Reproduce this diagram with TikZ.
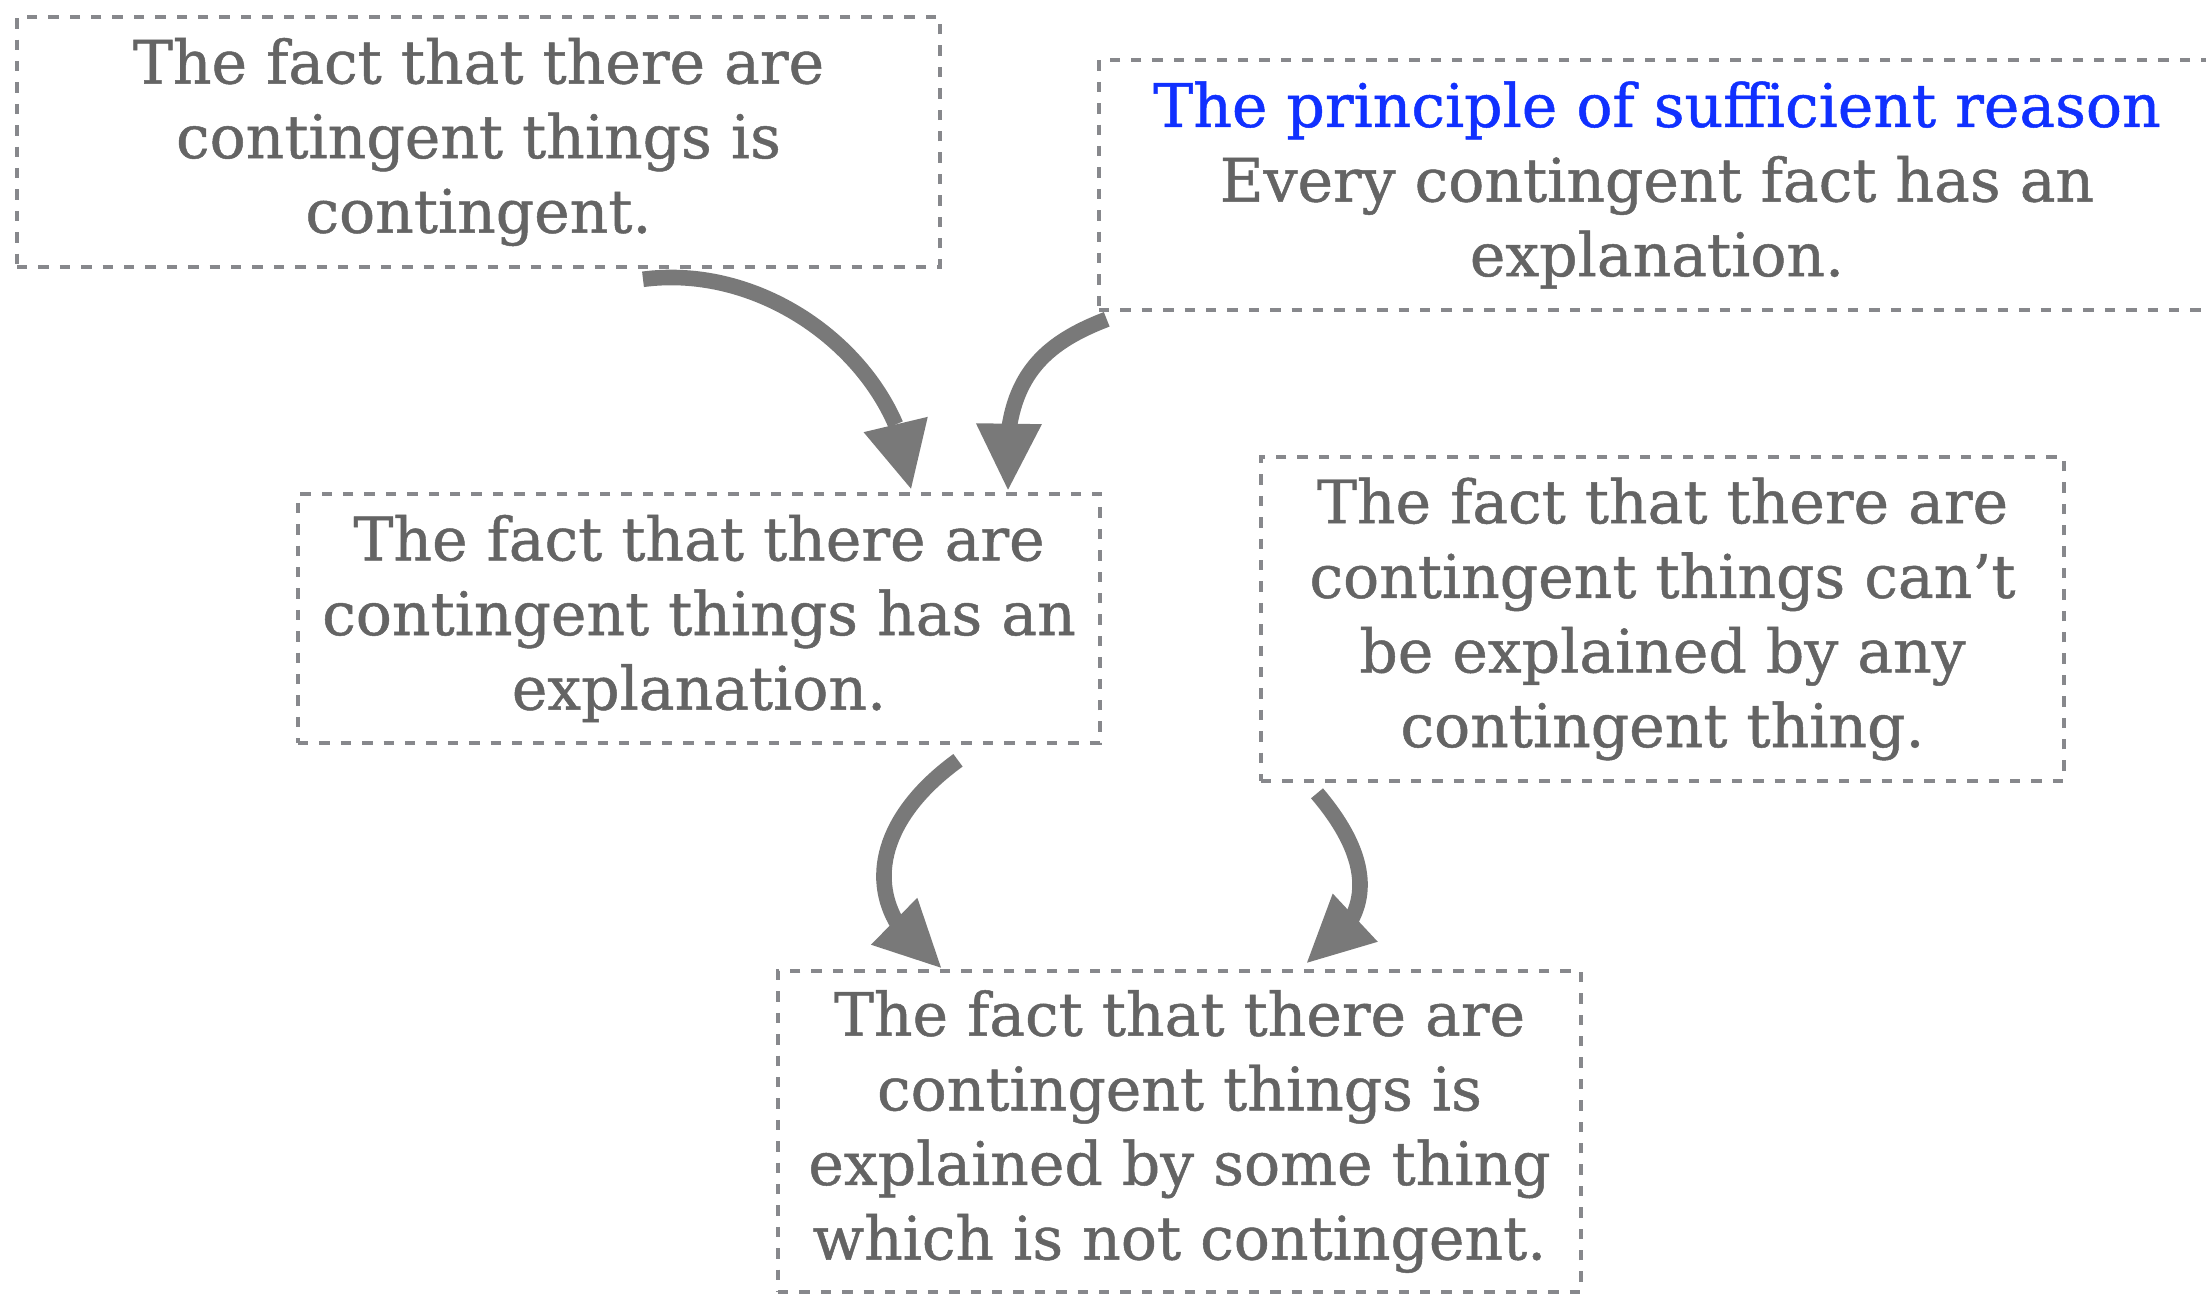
\documentclass[tikz,border=0pt]{standalone}
\usepackage{fontspec}
\setmainfont{DejaVu Serif}[FakeBold=0.8,AutoFakeBold=0]
\usetikzlibrary{arrows.meta,bending,calc}
\definecolor{txtgray}{HTML}{646464}
\definecolor{dashgray}{HTML}{87888C}
\definecolor{arrgray}{HTML}{797979}
\definecolor{psrblue}{HTML}{1030FF}
\begin{document}
\begin{tikzpicture}[x=0.5pt,y=-0.5pt,
  fact/.style={draw=dashgray, line width=2.3pt, dash pattern=on 5.2pt off 5.5pt,
    text=txtgray, align=center, inner sep=0pt,
    font=\fontsize{30}{37.3}\selectfont},
  infer/.style={draw=arrgray, line width=7.8pt,
    -{Triangle[length=33pt,width=33pt,line width=0pt,flex]}}]
\useasboundingbox (0,0) rectangle (2206,1295);
\node[fact, minimum width=461.5pt, minimum height=125pt] (b1) at (478.5,142)
  {The fact that there are\\contingent things is\\contingent.};
\node[fact, minimum width=558pt, minimum height=125pt] (b2) at (1657,185)
  {\textcolor{psrblue}{The principle of sufficient reason}\\Every contingent fact has an\\explanation.};
\node[fact, minimum width=401pt, minimum height=124.5pt] (b3) at (699,618.5)
  {The fact that there are\\contingent things has an\\explanation.};
\node[fact, minimum width=401.5pt, minimum height=162pt] (b4) at (1662.5,619)
  {The fact that there are\\contingent things can’t\\be explained by any\\contingent thing.};
\node[fact, minimum width=401.5pt, minimum height=160.5pt] (b5) at (1179.5,1131.5)
  {The fact that there are\\contingent things is\\explained by some thing\\which is not contingent.};
\coordinate (a1s) at ($(b1.south)+(164.5,10)$);
\coordinate (a1e) at ($(b3.north)+(212,-3)$);
\coordinate (a2s) at ($(b2.south west)+(10,7)$);
\coordinate (a2e) at ($(b3.north)+(309,-2)$);
\coordinate (a3s) at ($(b3.south)+(259,15)$);
\coordinate (a3e) at ($(b5.north)+(-238.5,-1)$);
\coordinate (a4s) at ($(b4.south)+(-345.5,10)$);
\coordinate (a4e) at ($(b5.north)+(127.5,-6)$);
\draw[infer] (a1s) .. controls (775,262) and (905,370) .. (a1e);
\draw[infer] (a2s) .. controls (1040,345) and (999,382) .. (a2e);
\draw[infer] (a3s) .. controls (866,827) and (859,913) .. (a3e);
\draw[infer] (a4s) .. controls (1372,858) and (1380,918) .. (a4e);
\end{tikzpicture}
\end{document}
